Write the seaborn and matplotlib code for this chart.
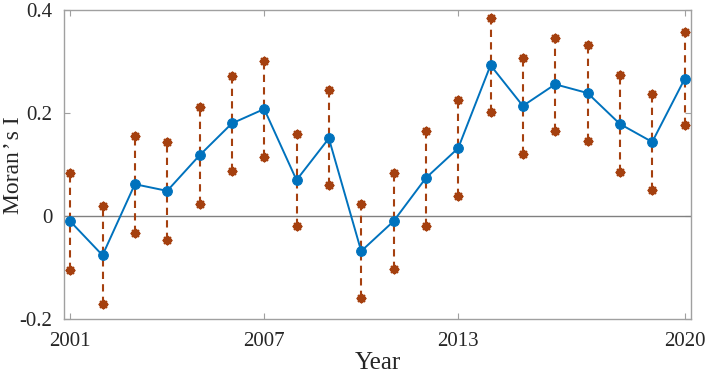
import matplotlib
matplotlib.use("Agg")
import matplotlib.pyplot as plt
import pandas as pd
import seaborn as sns

# Moran's I per year with upper / lower bounds
years = list(range(2001, 2021))
moran = [-0.010, -0.076, 0.062, 0.049, 0.118, 0.180, 0.208, 0.070, 0.151, -0.068,
         -0.010, 0.074, 0.132, 0.293, 0.214, 0.256, 0.239, 0.179, 0.144, 0.266]
upper = [0.083, 0.019, 0.155, 0.144, 0.212, 0.272, 0.301, 0.159, 0.245, 0.023,
         0.083, 0.165, 0.225, 0.384, 0.307, 0.346, 0.332, 0.274, 0.237, 0.357]
lower = [-0.105, -0.171, -0.033, -0.047, 0.023, 0.087, 0.115, -0.019, 0.060, -0.159,
         -0.103, -0.019, 0.039, 0.202, 0.120, 0.165, 0.146, 0.085, 0.050, 0.177]
xticks = [2001, 2007, 2013, 2020]
yticks = [-0.2, 0, 0.2, 0.4]
ytick_labels = ["-0.2", "0", "0.2", "0.4"]

df = pd.DataFrame({"year": years, "moran": moran, "upper": upper, "lower": lower})

sns.set_theme(style="white")
plt.rcParams["font.family"] = ["Liberation Serif", "DejaVu Serif"]

blue = "#0072BD"
red = "#A5400F"
grey = "#A0A0A0"

fig = plt.figure(figsize=(7.08, 3.75), dpi=100)
ax = fig.add_axes([0.090, 0.149, 0.886, 0.824])

ax.axhline(0, color="#808080", lw=1.0, zorder=1)
ax.vlines(df["year"], df["lower"], df["upper"], colors=red, linestyles=(0, (3.5, 2.5)),
          lw=1.5, zorder=2)
for col in ["upper", "lower"]:
    sns.scatterplot(data=df, x="year", y=col, ax=ax, marker=(8, 2, 0), s=26,
                    color=red, edgecolor=red, linewidth=2.0, zorder=3, legend=False)
sns.lineplot(data=df, x="year", y="moran", ax=ax, color=blue, lw=1.4,
             marker="o", markersize=7, markeredgecolor=blue, zorder=4)

ax.set_xlim(2000.8, 2020.2)
ax.set_ylim(-0.2, 0.4)
ax.set_xticks(xticks)
ax.set_xticklabels([str(t) for t in xticks])
ax.set_yticks(yticks)
ax.set_yticklabels(ytick_labels)
ax.set_xlabel("Year", fontsize=18, labelpad=1)
ax.set_ylabel("Moran\u200a\u2019\u200as I", fontsize=17)
ax.yaxis.set_label_coords(-0.064, 0.5)
ax.tick_params(direction="in", length=4, width=0.8, color=grey, labelsize=15,
               top=True, right=True, bottom=True, left=True, labelcolor="#262626")
ax.tick_params(axis="x", pad=9)
ax.tick_params(axis="y", pad=8)
for s in ax.spines.values():
    s.set_color(grey)
    s.set_linewidth(1.0)

fig.savefig("out.png", dpi=100)
